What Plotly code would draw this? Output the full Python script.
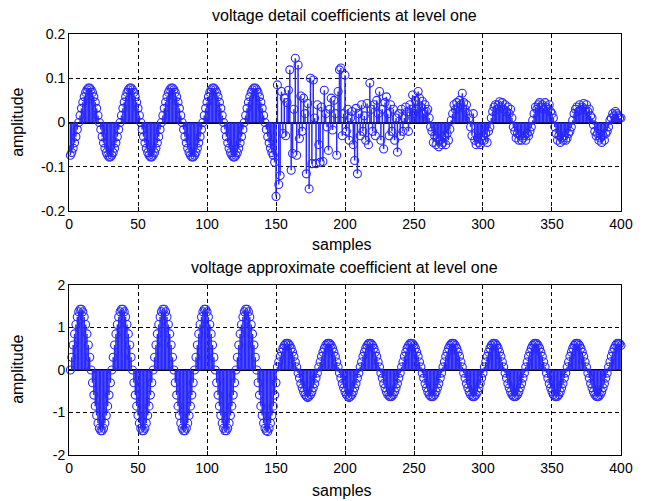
import plotly.graph_objects as go
from plotly.subplots import make_subplots

# sample index 1..400
samples = list(range(1, 401))

# detail coefficients (level one)
detail_coeffs = [
    # 1-150
    -0.074, -0.068, -0.058, -0.046, -0.032, -0.016, 0.0, 0.016, 0.032, 0.046, 0.058, 0.068, 0.074, 0.078, 0.078,
    0.074, 0.068, 0.058, 0.046, 0.032, 0.016, 0.0, -0.016, -0.032, -0.046, -0.058, -0.068, -0.074, -0.078, -0.078,
    -0.074, -0.068, -0.058, -0.046, -0.032, -0.016, 0.0, 0.016, 0.032, 0.046, 0.058, 0.068, 0.074, 0.078, 0.078,
    0.074, 0.068, 0.058, 0.046, 0.032, 0.016, 0.0, -0.016, -0.032, -0.046, -0.058, -0.068, -0.074, -0.078, -0.078,
    -0.074, -0.068, -0.058, -0.046, -0.032, -0.016, 0.0, 0.016, 0.032, 0.046, 0.058, 0.068, 0.074, 0.078, 0.078,
    0.074, 0.068, 0.058, 0.046, 0.032, 0.016, 0.0, -0.016, -0.032, -0.046, -0.058, -0.068, -0.074, -0.078, -0.078,
    -0.074, -0.068, -0.058, -0.046, -0.032, -0.016, 0.0, 0.016, 0.032, 0.046, 0.058, 0.068, 0.074, 0.078, 0.078,
    0.074, 0.068, 0.058, 0.046, 0.032, 0.016, 0.0, -0.016, -0.032, -0.046, -0.058, -0.068, -0.074, -0.078, -0.078,
    -0.074, -0.068, -0.058, -0.046, -0.032, -0.016, 0.0, 0.016, 0.032, 0.046, 0.058, 0.068, 0.074, 0.078, 0.078,
    0.074, 0.068, 0.058, 0.046, 0.032, 0.016, 0.0, -0.016, -0.032, -0.046, -0.058, -0.068, -0.074, -0.09, -0.167,
    # 151-250
    0.085, -0.14, -0.12, 0.07, -0.025, 0.055, -0.03, 0.045, 0.073, 0.119,
    -0.108, -0.07, 0.03, 0.145, -0.074, 0.13, -0.036, 0.06, -0.02, 0.055,
    0.02, -0.116, 0.043, -0.15, 0.1, -0.093, 0.096, 0.01, -0.093, 0.04,
    -0.05, -0.09, 0.035, -0.088, 0.073, 0.02, -0.01, -0.063, 0.03, 0.055,
    -0.017, 0.05, 0.02, -0.074, 0.07, 0.119, 0.123, -0.03, 0.02, 0.107,
    -0.02, 0.03, -0.04, 0.01, 0.025, -0.05, -0.086, 0.032, -0.116, 0.02,
    -0.03, 0.04, -0.02, 0.015, -0.04, 0.043, -0.05, 0.089, 0.03, -0.02,
    0.04, -0.03, 0.05, 0.02, 0.07, -0.04, 0.03, -0.06, 0.045, 0.058,
    0.02, -0.03, 0.04, -0.02, 0.03, -0.04, 0.01, -0.067, 0.02, -0.03,
    0.03, -0.02, 0.01, 0.035, 0.024, -0.02, 0.04, 0.03, 0.062, 0.02,
    # 251-400
    0.05, 0.03, 0.07, 0.055, 0.035, 0.048, 0.02, 0.04, 0.025, 0.03,
    0.01, -0.01, -0.02, -0.045, -0.03, -0.05, -0.035, -0.055, -0.04, -0.05,
    -0.045, -0.03, -0.05, -0.025, -0.04, -0.015, 0.005, 0.02, 0.04, 0.03,
    0.045, 0.035, 0.05, 0.04, 0.066, 0.045, 0.03, 0.04, 0.02, 0.01,
    -0.01, -0.03, 0.02, -0.04, -0.05, -0.035, -0.045, -0.05, -0.04, -0.03,
    -0.04, -0.025, -0.045, -0.02, -0.01, 0.01, 0.025, 0.035, 0.04, 0.03,
    0.04, 0.047, 0.035, 0.045, 0.03, 0.04, 0.025, 0.035, 0.02, 0.03,
    0.01, -0.01, -0.02, -0.035, -0.025, -0.04, -0.03, -0.04, -0.035, -0.03,
    -0.04, -0.025, -0.03, -0.02, -0.01, 0.005, 0.02, 0.035, 0.03, 0.04,
    0.045, 0.035, 0.04, 0.03, 0.045, 0.035, 0.03, 0.04, 0.025, 0.02,
    0.01, -0.01, -0.025, -0.04, -0.03, -0.045, -0.035, -0.04, -0.03, -0.04,
    -0.035, -0.025, -0.02, -0.01, 0.005, 0.02, 0.03, 0.035, 0.025, 0.04,
    0.03, 0.035, 0.043, 0.03, 0.04, 0.025, 0.03, 0.015, 0.01, -0.005,
    -0.02, -0.03, -0.025, -0.04, -0.035, -0.045, -0.03, -0.04, -0.025, -0.02,
    -0.01, 0.005, 0.01, 0.02, 0.015, 0.025, 0.02, 0.015, 0.01, 0.01,
]

# approximation coefficients (level one)
approx_coeffs = [
    # 1-150
    0.0, 0.30, 0.59, 0.85, 1.07, 1.25, 1.37, 1.43, 1.43, 1.37, 1.25, 1.07, 0.85, 0.59, 0.30,
    0.0, -0.30, -0.59, -0.85, -1.07, -1.25, -1.37, -1.43, -1.43, -1.37, -1.25, -1.07, -0.85, -0.59, -0.30,
    0.0, 0.30, 0.59, 0.85, 1.07, 1.25, 1.37, 1.43, 1.43, 1.37, 1.25, 1.07, 0.85, 0.59, 0.30,
    0.0, -0.30, -0.59, -0.85, -1.07, -1.25, -1.37, -1.43, -1.43, -1.37, -1.25, -1.07, -0.85, -0.59, -0.30,
    0.0, 0.30, 0.59, 0.85, 1.07, 1.25, 1.37, 1.43, 1.43, 1.37, 1.25, 1.07, 0.85, 0.59, 0.30,
    0.0, -0.30, -0.59, -0.85, -1.07, -1.25, -1.37, -1.43, -1.43, -1.37, -1.25, -1.07, -0.85, -0.59, -0.30,
    0.0, 0.30, 0.59, 0.85, 1.07, 1.25, 1.37, 1.43, 1.43, 1.37, 1.25, 1.07, 0.85, 0.59, 0.30,
    0.0, -0.30, -0.59, -0.85, -1.07, -1.25, -1.37, -1.43, -1.43, -1.37, -1.25, -1.07, -0.85, -0.59, -0.30,
    0.0, 0.30, 0.59, 0.85, 1.07, 1.25, 1.37, 1.43, 1.43, 1.37, 1.25, 1.07, 0.85, 0.59, 0.30,
    0.0, -0.30, -0.59, -0.85, -1.07, -1.25, -1.37, -1.43, -1.45, -1.37, -1.25, -1.07, -0.85, -0.59, -0.30,
    # 151-400
    0.07, 0.19, 0.32, 0.42, 0.51, 0.58, 0.62, 0.63, 0.62, 0.58, 0.51, 0.42, 0.32, 0.19, 0.07,
    -0.07, -0.19, -0.32, -0.42, -0.51, -0.58, -0.62, -0.65, -0.62, -0.58, -0.51, -0.42, -0.32, -0.19, -0.07,
    0.07, 0.19, 0.32, 0.42, 0.51, 0.58, 0.62, 0.63, 0.62, 0.58, 0.51, 0.42, 0.32, 0.19, 0.07,
    -0.07, -0.19, -0.32, -0.42, -0.51, -0.58, -0.62, -0.65, -0.62, -0.58, -0.51, -0.42, -0.32, -0.19, -0.07,
    0.07, 0.19, 0.32, 0.42, 0.51, 0.58, 0.62, 0.63, 0.62, 0.58, 0.51, 0.42, 0.32, 0.19, 0.07,
    -0.07, -0.19, -0.32, -0.42, -0.51, -0.58, -0.62, -0.63, -0.62, -0.58, -0.51, -0.42, -0.32, -0.19, -0.07,
    0.07, 0.19, 0.32, 0.42, 0.51, 0.58, 0.62, 0.63, 0.62, 0.58, 0.51, 0.42, 0.32, 0.19, 0.07,
    -0.07, -0.19, -0.32, -0.42, -0.51, -0.58, -0.62, -0.63, -0.62, -0.58, -0.51, -0.42, -0.32, -0.19, -0.07,
    0.07, 0.19, 0.32, 0.42, 0.51, 0.58, 0.62, 0.63, 0.62, 0.58, 0.51, 0.42, 0.32, 0.19, 0.07,
    -0.07, -0.19, -0.32, -0.42, -0.51, -0.58, -0.62, -0.63, -0.62, -0.58, -0.51, -0.42, -0.32, -0.19, -0.07,
    0.07, 0.19, 0.32, 0.42, 0.51, 0.58, 0.62, 0.63, 0.62, 0.58, 0.51, 0.42, 0.32, 0.19, 0.07,
    -0.07, -0.19, -0.32, -0.42, -0.51, -0.58, -0.62, -0.63, -0.62, -0.58, -0.51, -0.42, -0.32, -0.19, -0.07,
    0.07, 0.19, 0.32, 0.42, 0.51, 0.58, 0.62, 0.63, 0.62, 0.58, 0.51, 0.42, 0.32, 0.19, 0.07,
    -0.07, -0.19, -0.32, -0.42, -0.51, -0.58, -0.62, -0.63, -0.62, -0.58, -0.51, -0.42, -0.32, -0.19, -0.07,
    0.07, 0.19, 0.32, 0.42, 0.51, 0.58, 0.62, 0.63, 0.62, 0.58, 0.51, 0.42, 0.32, 0.19, 0.07,
    -0.07, -0.19, -0.32, -0.42, -0.51, -0.58, -0.62, -0.63, -0.62, -0.58, -0.51, -0.42, -0.32, -0.19, -0.07,
    0.07, 0.19, 0.32, 0.42, 0.51, 0.58, 0.62, 0.63, 0.62, 0.58,
]

x_ticks = [0, 50, 100, 150, 200, 250, 300, 350, 400]
detail_ticks = [-0.2, -0.1, 0, 0.1, 0.2]
approx_ticks = [-2, -1, 0, 1, 2]

titles = ["voltage detail coefficients at level one",
          "voltage approximate coefficient at level one"]

STEM_BLUE = "rgb(40,40,255)"
FONT = "Liberation Sans, Arial, sans-serif"

# page has an 8px body margin, so the figure is 8px smaller than the window
W, H = 637, 493


def stem_traces(xs, ys):
    # vertical stems from 0 to each value, then open circles on top
    sx, sy = [], []
    for xv, yv in zip(xs, ys):
        sx += [xv, xv, None]
        sy += [0, yv, None]
    lines = go.Scatter(x=sx, y=sy, mode="lines", line=dict(color=STEM_BLUE, width=1.5),
                       hoverinfo="skip", showlegend=False)
    dots = go.Scatter(x=xs, y=ys, mode="markers", cliponaxis=False, showlegend=False,
                      marker=dict(symbol="circle-open", size=8, color=STEM_BLUE,
                                  line=dict(width=1.1, color=STEM_BLUE)))
    return lines, dots


fig = make_subplots(rows=2, cols=1)

for row, data in [(1, detail_coeffs), (2, approx_coeffs)]:
    lines, dots = stem_traces(samples, data)
    fig.add_trace(lines, row=row, col=1)
    fig.add_trace(dots, row=row, col=1)

axis_common = dict(showline=True, mirror=True, linecolor="black", linewidth=1,
                   ticks="inside", ticklen=4, tickcolor="black", automargin=False,
                   showgrid=True, gridcolor="black", gridwidth=1, griddash="4px,3px",
                   tickfont=dict(family=FONT, size=14, color="black"))

fig.update_xaxes(range=[0, 400], tickvals=x_ticks, zeroline=False, **axis_common)
fig.update_yaxes(zeroline=True, zerolinecolor="black", zerolinewidth=1.5, **axis_common)

fig.update_xaxes(domain=[0.0958, 0.9623], row=1, col=1)
fig.update_xaxes(domain=[0.0958, 0.9623], row=2, col=1)
fig.update_yaxes(domain=[0.5882, 0.9473], range=[-0.2, 0.2], tickvals=detail_ticks,
                 ticktext=["-0.2", "-0.1", "0", "0.1", "0.2"], row=1, col=1)
fig.update_yaxes(domain=[0.0933, 0.4381], range=[-2, 2], tickvals=approx_ticks,
                 ticktext=["-2", "-1", "0", "1", "2"], row=2, col=1)

label_font = dict(family=FONT, size=16, color="black")
# subplot titles
fig.add_annotation(text=titles[0], x=0.529, y=0.984, xref="paper", yref="paper",
                   showarrow=False, xanchor="center", yanchor="middle", font=label_font)
fig.add_annotation(text=titles[1], x=0.529, y=0.473, xref="paper", yref="paper",
                   showarrow=False, xanchor="center", yanchor="middle", font=label_font)
# axis labels
for yy in [0.521, 0.022]:
    fig.add_annotation(text="samples", x=0.524, y=yy, xref="paper", yref="paper",
                       showarrow=False, xanchor="center", yanchor="middle", font=label_font)
for yy in [0.767, 0.266]:
    fig.add_annotation(text="amplitude", x=0.0157, y=yy, xref="paper", yref="paper",
                       showarrow=False, xanchor="center", yanchor="middle", textangle=-90,
                       font=label_font)

fig.update_layout(width=W, height=H, margin=dict(l=0, r=0, t=0, b=0),
                  paper_bgcolor="white", plot_bgcolor="white", showlegend=False)

fig.write_html("out.html")
